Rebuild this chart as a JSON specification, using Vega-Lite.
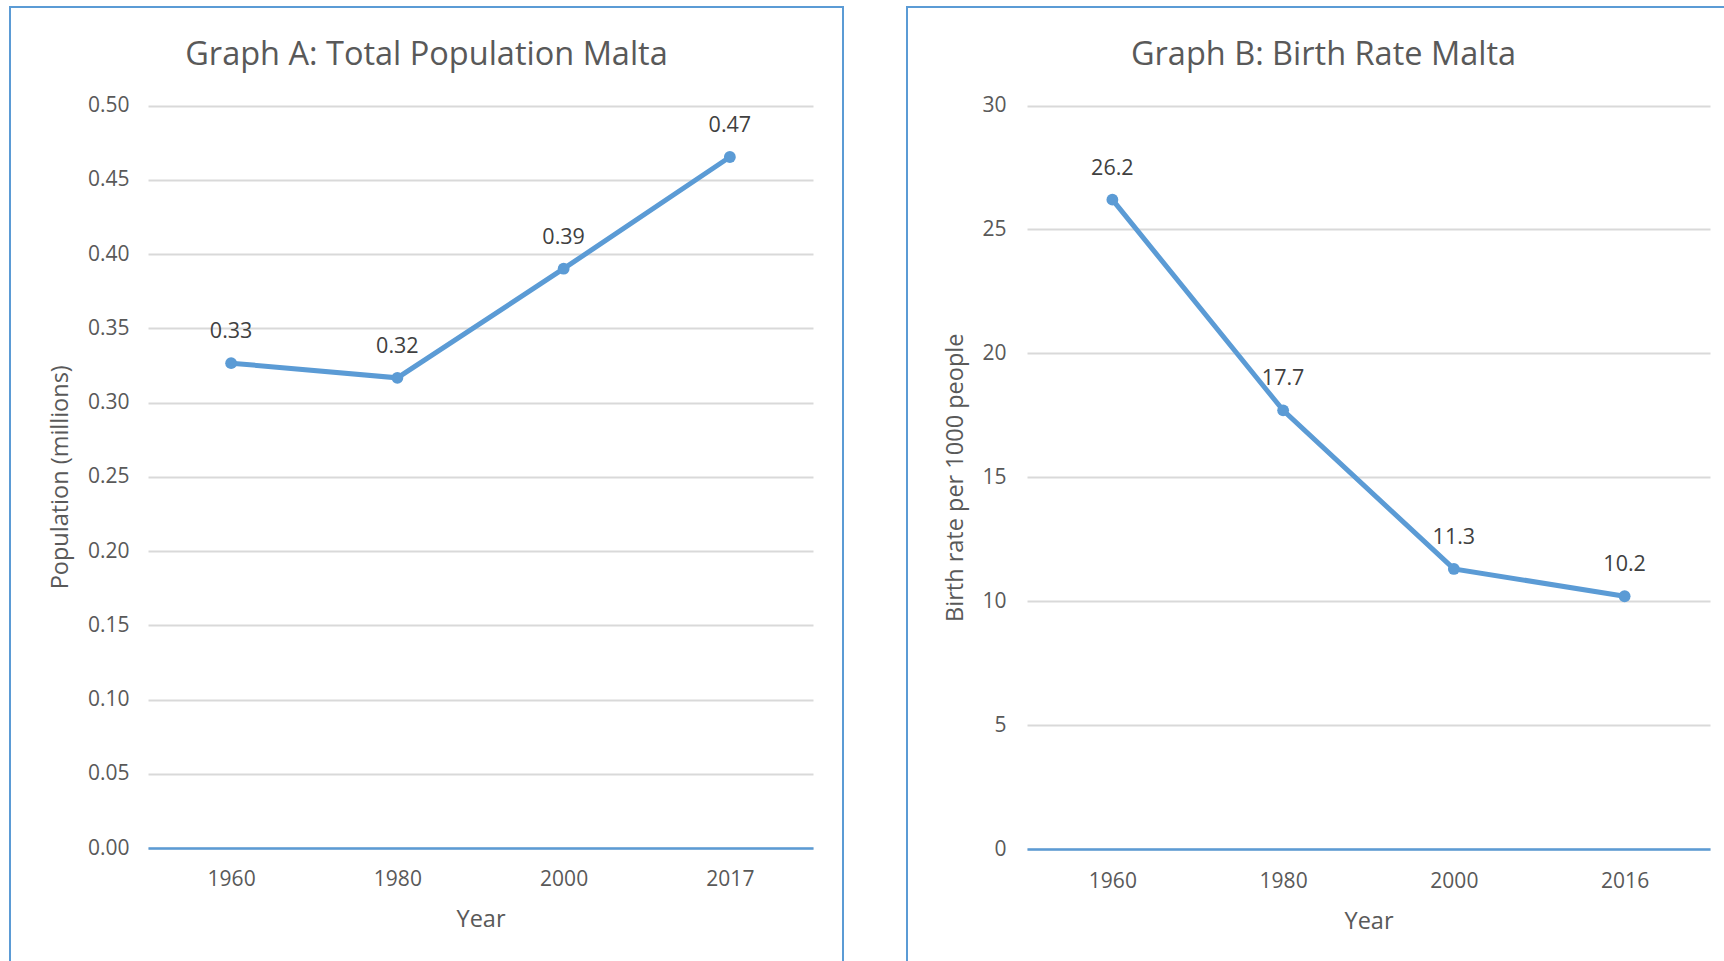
{
  "$schema": "https://vega.github.io/schema/vega-lite/v6.json",
  "padding": {"left": 9, "top": 6, "right": 0, "bottom": 0},
  "background": "white",
  "datasets": {
    "popA": [
      {"year": "1960", "population": 0.3265},
      {"year": "1980", "population": 0.3166},
      {"year": "2000", "population": 0.3901},
      {"year": "2017", "population": 0.4653}
    ],
    "birthB": [
      {"year": "1960", "rate": 26.2},
      {"year": "1980", "rate": 17.7},
      {"year": "2000", "rate": 11.3},
      {"year": "2016", "rate": 10.2}
    ]
  },
  "config": {
    "font": "Open Sans",
    "view": {"stroke": "#5b9bd5", "strokeWidth": 2},
    "title": {"fontSize": 32.5, "fontWeight": "normal", "color": "#595959", "anchor": "middle", "frame": "group", "offset": -64},
    "axis": {"labelFont": "Open Sans", "titleFont": "Open Sans", "labelColor": "#595959", "titleColor": "#595959", "labelFontSize": 21, "titleFontSize": 23.5, "titleFontWeight": "normal", "ticks": false, "tickSize": 0}
  },
  "hconcat": [
    {
      "width": 833,
      "height": 960,
      "title": "Graph A: Total Population Malta",
      "data": {"name": "popA"},
      "encoding": {
        "x": {"field": "year", "type": "ordinal", "scale": {"type": "point", "padding": 0.5, "range": [138, 803]},
              "axis": {"title": "Year", "labelAngle": 0, "offset": -119, "domainColor": "#5b9bd5", "domainWidth": 2.5, "labelPadding": 20, "titlePadding": 18, "grid": false}},
        "y": {"field": "population", "type": "quantitative", "scale": {"domain": [0, 0.5], "range": [841, 98.5], "nice": false, "zero": true},
              "axis": {"title": "Population (millions)", "values": [0, 0.05, 0.1, 0.15, 0.2, 0.25, 0.3, 0.35, 0.4, 0.45, 0.5], "format": ".2f", "offset": -138, "domain": false, "labelPadding": 19, "titlePadding": 15, "grid": true, "gridColor": "#d9d9d9", "gridWidth": 2}}
      },
      "layer": [
        {"mark": {"type": "line", "color": "#5b9bd5", "strokeWidth": 5}},
        {"mark": {"type": "point", "filled": true, "color": "#5b9bd5", "size": 140, "opacity": 1}},
        {"mark": {"type": "text", "dy": -31, "fontSize": 21.5, "color": "#404040"}, "encoding": {"text": {"field": "population", "type": "quantitative", "format": ".2f"}}}
      ]
    },
    {
      "width": 833,
      "height": 960,
      "title": "Graph B: Birth Rate Malta",
      "data": {"name": "birthB"},
      "encoding": {
        "x": {"field": "year", "type": "ordinal", "scale": {"type": "point", "padding": 0.5, "range": [120, 803]},
              "axis": {"title": "Year", "labelAngle": 0, "offset": -118, "domainColor": "#5b9bd5", "domainWidth": 2.5, "labelPadding": 21, "titlePadding": 18, "grid": false}},
        "y": {"field": "rate", "type": "quantitative", "scale": {"domain": [0, 30], "range": [842, 98.5], "nice": false, "zero": true},
              "axis": {"title": "Birth rate per 1000 people", "values": [0, 5, 10, 15, 20, 25, 30], "offset": -120, "domain": false, "labelPadding": 21, "titlePadding": 14, "grid": true, "gridColor": "#d9d9d9", "gridWidth": 2}}
      },
      "layer": [
        {"mark": {"type": "line", "color": "#5b9bd5", "strokeWidth": 5}},
        {"mark": {"type": "point", "filled": true, "color": "#5b9bd5", "size": 140, "opacity": 1}},
        {"mark": {"type": "text", "dy": -31, "fontSize": 21.5, "color": "#404040"}, "encoding": {"text": {"field": "rate", "type": "quantitative", "format": ".1f"}}}
      ]
    }
  ],
  "spacing": 62
}
